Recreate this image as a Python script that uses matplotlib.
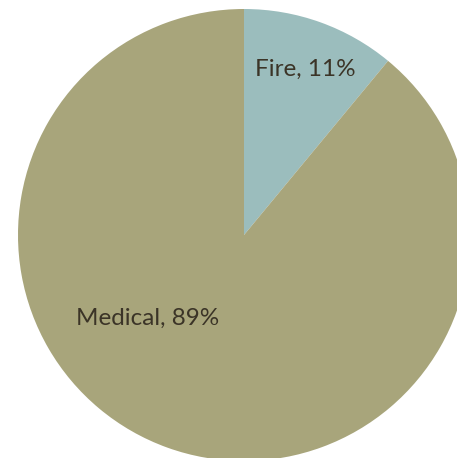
import matplotlib
matplotlib.use("Agg")
import matplotlib.pyplot as plt

categories = ["Fire", "Medical"]
values = [11, 89]
colors = ["#9BBDBD", "#A8A57B"]

W, H = 457, 458
cx, cy, R = 244, 235, 226

fig = plt.figure(figsize=(W / 100, H / 100), dpi=100)
ax = fig.add_axes([0, 0, 1, 1])
wedges, _ = ax.pie(values, colors=colors, startangle=90, counterclock=False,
                   radius=1.0, wedgeprops=dict(linewidth=0))
ax.set_xlim(-cx / R, (W - cx) / R)
ax.set_ylim(-(H - cy) / R, cy / R)
ax.set_aspect("auto")
ax.axis("off")

label_pos = [((305 - cx) / R, (cy - 69) / R), ((147.5 - cx) / R, (cy - 318) / R)]
for cat, v, (x, y) in zip(categories, values, label_pos):
    ax.text(x, y, f"{cat}, {v}%", ha="center", va="center", fontsize=17.5,
            family="Lato", color="#3B3427")

fig.savefig("out.png", dpi=100)
